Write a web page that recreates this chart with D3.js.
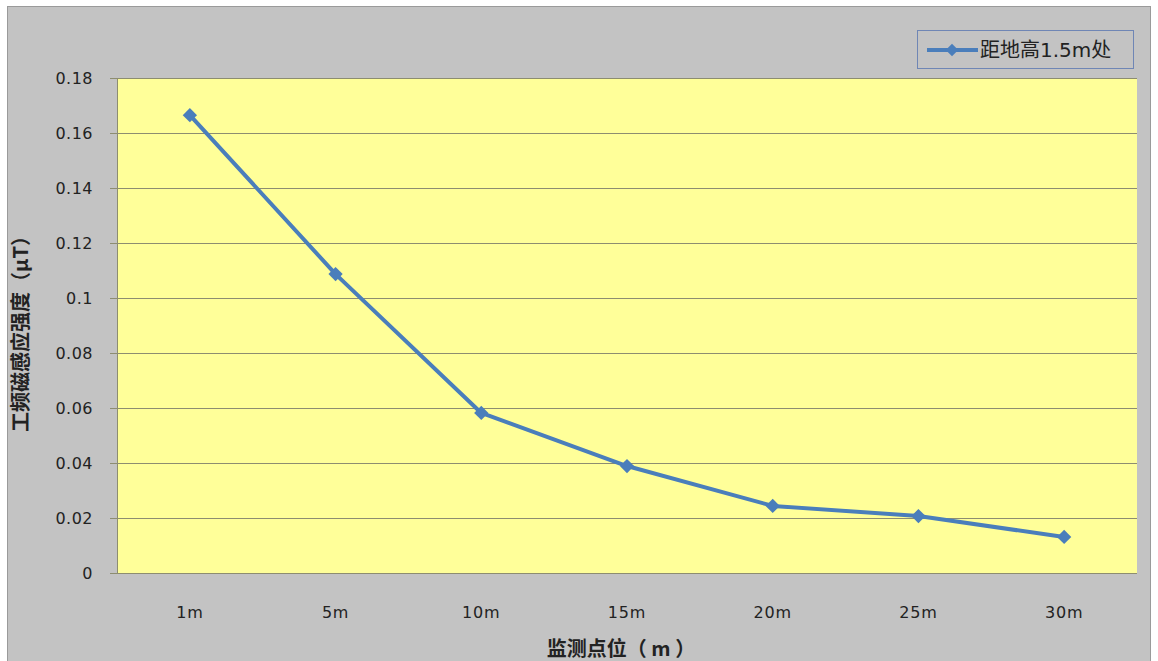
<!DOCTYPE html>
<html lang="zh">
<meta charset="utf-8"/>
<style>
	body { margin: 0; background: #ffffff; }
	svg { display: block; }
	svg text { font-family: "DejaVu Sans", "Noto Sans CJK SC", sans-serif; fill: #222; }
	.title { font-family: "Noto Sans CJK SC", sans-serif; font-weight: bold; }
</style>
<body>
<svg width="1158" height="661"></svg>
<script src="https://d3js.org/d3.v7.min.js"></script>
<script>
// data
let categories = ["1m", "5m", "10m", "15m", "20m", "25m", "30m"]
let values = [0.1665, 0.1087, 0.0582, 0.0389, 0.0244, 0.0207, 0.0131]
let yTicks = [0, 0.02, 0.04, 0.06, 0.08, 0.1, 0.12, 0.14, 0.16, 0.18]
let seriesName = "距地高1.5m处"

let svg = d3.select("svg")
let plotLeft = 117, plotRight = 1137, plotTop = 78, plotBottom = 573

// chart area
svg.append("rect")
	.attr("x", 7.5).attr("y", 6.5).attr("width", 1143).attr("height", 670)
	.attr("fill", "#c3c3c3").attr("stroke", "#9a9a9a")

// plot area
svg.append("rect")
	.attr("x", plotLeft).attr("y", plotTop)
	.attr("width", plotRight - plotLeft).attr("height", plotBottom - plotTop)
	.attr("fill", "#ffff99")

let xScale = d3.scaleBand().domain(categories).range([plotLeft, plotRight])
let yScale = d3.scaleLinear().domain([0, 0.18]).range([plotBottom, plotTop])

// gridlines
svg.append("g")
	.selectAll("line")
	.data(yTicks)
	.enter()
	.append("line")
	.attr("x1", plotLeft - 7).attr("x2", plotRight)
	.attr("y1", d => Math.round(yScale(d)) + 0.5).attr("y2", d => Math.round(yScale(d)) + 0.5)
	.attr("stroke", "#8d8d70").attr("stroke-width", 1)

// left axis line
svg.append("line")
	.attr("x1", plotLeft + 0.5).attr("x2", plotLeft + 0.5).attr("y1", plotTop).attr("y2", plotBottom)
	.attr("stroke", "#8d8d70")

// y axis labels
svg.append("g")
	.selectAll("text")
	.data(yTicks)
	.enter()
	.append("text")
	.attr("x", 93)
	.attr("y", d => yScale(d) + 6)
	.attr("text-anchor", "end")
	.style("font-size", "16px")
	.style("letter-spacing", "0.5px")
	.text(d => d3.format("")(d))

// x axis labels
svg.append("g")
	.selectAll("text")
	.data(categories)
	.enter()
	.append("text")
	.attr("x", d => xScale(d) + xScale.bandwidth() / 2)
	.attr("y", 618)
	.attr("text-anchor", "middle")
	.style("font-size", "16px")
	.style("letter-spacing", "0.8px")
	.text(d => d)

// axis titles
svg.append("text")
	.attr("class", "title")
	.attr("x", 621).attr("y", 656)
	.attr("text-anchor", "middle")
	.style("font-size", "20px")
	.text("监测点位（ m ）")

svg.append("text")
	.attr("class", "title")
	.attr("transform", "translate(28,329) rotate(-90)")
	.attr("text-anchor", "middle")
	.style("font-size", "20px")
	.text("工频磁感应强度（μT）")

// series
let pts = categories.map((c, i) => [xScale(c) + xScale.bandwidth() / 2, yScale(values[i])])
let lineColor = "#4a7ebb"

svg.append("path")
	.attr("d", d3.line()(pts))
	.attr("fill", "none")
	.attr("stroke", lineColor)
	.attr("stroke-width", 4)
	.attr("stroke-linejoin", "round")

let diamond = d3.symbol().type(d3.symbolDiamond2).size(130)
svg.append("g")
	.selectAll("path")
	.data(pts)
	.enter()
	.append("path")
	.attr("d", diamond)
	.attr("transform", d => "translate(" + d[0] + "," + d[1] + ")")
	.attr("fill", lineColor)

// legend
let lg = svg.append("g")
lg.append("rect")
	.attr("x", 917.5).attr("y", 30.5).attr("width", 216).attr("height", 38)
	.attr("fill", "none").attr("stroke", "#6f86b5")
lg.append("line")
	.attr("x1", 927).attr("x2", 978).attr("y1", 50).attr("y2", 50)
	.attr("stroke", lineColor).attr("stroke-width", 4)
lg.append("path")
	.attr("d", d3.symbol().type(d3.symbolDiamond2).size(100))
	.attr("transform", "translate(952,50)")
	.attr("fill", lineColor)
lg.append("text")
	.attr("x", 980).attr("y", 57)
	.style("font-size", "20px")
	.text(seriesName)
</script>
</body>
</html>
